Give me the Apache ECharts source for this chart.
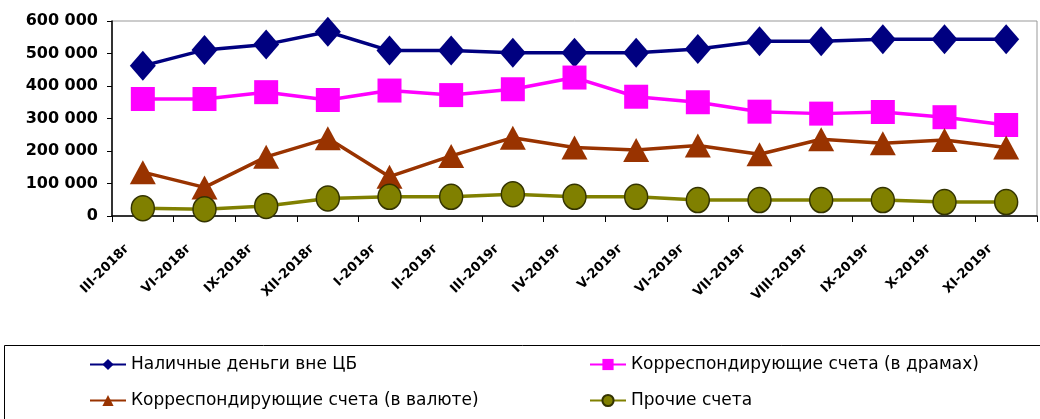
<!DOCTYPE html>
<html><head><meta charset="utf-8">
<script src="https://cdn.jsdelivr.net/npm/echarts@6/dist/echarts.min.js"></script>
<style>html,body{margin:0;padding:0;background:#fff}#c{width:1040px;height:419px}</style>
</head><body><div id="c"></div>
<script>
var categories = ['III-2018г','VI-2018г','IX-2018г','XII-2018г','I-2019г','II-2019г','III-2019г','IV-2019г','V-2019г','VI-2019г','VII-2019г','VIII-2019г','IX-2019г','X-2019г','XI-2019г'];
var cash = [462000,511000,528000,567000,509000,509000,502000,502000,502000,514000,538000,538000,544000,544000,544000];
var corrAMD = [360000,360000,381000,357000,386000,372000,390000,426000,367000,350000,321000,315000,320000,304000,280000];
var corrFX = [135000,88000,182000,239000,121000,185000,241000,211000,203000,217000,190000,236000,224000,234000,211000];
var other = [24000,21000,31000,54000,59000,59000,67000,59000,59000,49000,49000,49000,49000,43000,43000];
var yTicks = [0,100000,200000,300000,400000,500000,600000];

var chart = echarts.init(document.getElementById('c'));
var legendText = {fontFamily:'DejaVu Sans', fontSize:17, color:'#000'};
chart.setOption({
  animation:false,
  grid:{left:112, top:21, right:3, bottom:203, show:true, borderColor:'#999', borderWidth:1},
  legend:[
    {orient:'vertical', left:84, top:351, itemGap:19, itemWidth:36, itemHeight:14, textStyle:legendText,
     data:['Наличные деньги вне ЦБ','Корреспондирующие счета (в валюте)']},
    {orient:'vertical', left:584, top:351, itemGap:19, itemWidth:36, itemHeight:14, textStyle:legendText,
     data:['Корреспондирующие счета (в драмах)','Прочие счета']}
  ],
  graphic:[{type:'rect', shape:{x:4.5,y:345.5,width:1040,height:80}, style:{fill:'none', stroke:'#000', lineWidth:1}}],
  xAxis:{type:'category', data:categories, boundaryGap:true,
    axisLine:{lineStyle:{color:'#000', width:1.5}},
    axisTick:{show:true, length:6, lineStyle:{color:'#000'}},
    axisLabel:{rotate:45, interval:0, margin:15, padding:[0,22,0,0], fontFamily:'DejaVu Sans', fontWeight:'bold', fontSize:13, color:'#000'}},
  yAxis:{type:'value', min:0, max:600000, interval:100000,
    axisLine:{show:true, lineStyle:{color:'#000', width:1.5}},
    axisTick:{show:true, length:5, lineStyle:{color:'#000'}},
    splitLine:{show:false},
    axisLabel:{margin:14, fontFamily:'DejaVu Sans', fontWeight:'bold', fontSize:16, color:'#000',
      formatter:function(v){ return yTicks.indexOf(v)>=0 ? (v===0?'0':String(v/1000)+' 000') : ''; }}},
  series:[
    {name:'Наличные деньги вне ЦБ', type:'line', data:cash, symbol:'diamond', symbolSize:[26,30],
     lineStyle:{color:'#000080', width:3.5}, itemStyle:{color:'#000080'}},
    {name:'Корреспондирующие счета (в драмах)', type:'line', data:corrAMD, symbol:'rect', symbolSize:[24,24],
     lineStyle:{color:'#FF00FF', width:3.5}, itemStyle:{color:'#FF00FF'}},
    {name:'Корреспондирующие счета (в валюте)', type:'line', data:corrFX, symbol:'triangle', symbolSize:[26,24],
     lineStyle:{color:'#993300', width:3.5}, itemStyle:{color:'#993300'}},
    {name:'Прочие счета', type:'line', data:other, symbol:'circle', symbolSize:[23,25],
     lineStyle:{color:'#808000', width:3.5}, itemStyle:{color:'#808000', borderColor:'#333300', borderWidth:1.5}}
  ]
});
</script></body></html>
